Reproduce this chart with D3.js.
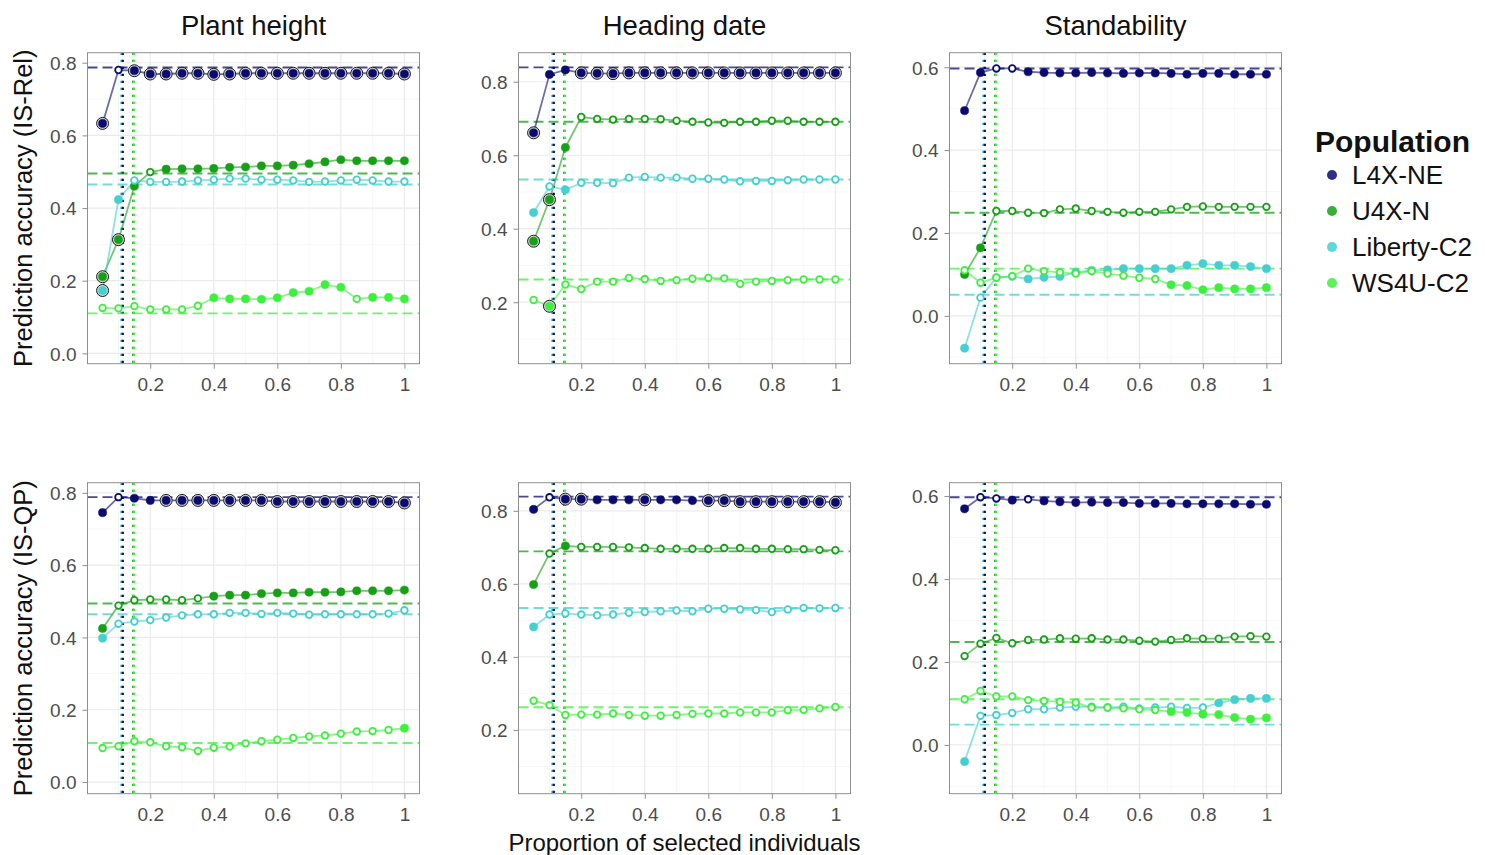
<!DOCTYPE html>
<html><head><meta charset="utf-8">
<script src="https://cdn.jsdelivr.net/npm/d3@7/dist/d3.min.js"></script>
<style>
body{margin:0;background:#fff;}
svg{display:block;}
text{font-family:"Liberation Sans",Arial,sans-serif;}
</style>
</head><body>
<svg id="chart" width="1485" height="855"></svg>
<script>
// ---------- data ----------
const populations = ["L4X-NE", "U4X-N", "Liberty-C2", "WS4U-C2"];
const popColors = ["#0b0b6f", "#17a017", "#45cfcf", "#3ef03e"];
const traits = ["Plant height", "Heading date", "Standability"];
const methods = ["IS-Rel", "IS-QP"];
const proportions = [0.05,0.10,0.15,0.20,0.25,0.30,0.35,0.40,0.45,0.50,0.55,0.60,0.65,0.70,0.75,0.80,0.85,0.90,0.95,1.00];
const xTickValues = [0.2, 0.4, 0.6, 0.8, 1];
// optimal proportion (dotted vertical lines), one per population
const optimalProportion = [0.1135, 0.1465, 0.109, 0.1485];

// status codes: f = filled, o = open, c = filled + circled
// Plant height, IS-Rel
const ph_rel_L4X = [0.633,0.780,0.778,0.769,0.769,0.771,0.771,0.768,0.769,0.771,0.771,0.771,0.771,0.771,0.771,0.771,0.771,0.771,0.771,0.769];
const ph_rel_U4X = [0.211,0.313,0.460,0.499,0.507,0.508,0.508,0.509,0.512,0.513,0.516,0.516,0.518,0.522,0.527,0.533,0.530,0.530,0.530,0.530];
const ph_rel_Lib = [0.173,0.423,0.476,0.472,0.472,0.473,0.476,0.478,0.481,0.481,0.478,0.478,0.476,0.472,0.473,0.476,0.478,0.476,0.473,0.473];
const ph_rel_WS = [0.125,0.124,0.130,0.121,0.121,0.121,0.131,0.153,0.150,0.150,0.149,0.153,0.167,0.171,0.189,0.182,0.150,0.154,0.154,0.150];
const ph_rel_status = ["cocccccccccccccccccc","ccfoffffffffffffffff","cfoooooooooooooooooo","ooooooofffffffffofff"];
const ph_rel_base = [0.787, 0.495, 0.465, 0.110];

// Heading date, IS-Rel
const hd_rel_L4X = [0.661,0.820,0.832,0.824,0.823,0.822,0.824,0.824,0.824,0.824,0.824,0.824,0.824,0.824,0.824,0.824,0.824,0.824,0.824,0.824];
const hd_rel_U4X = [0.366,0.479,0.621,0.704,0.699,0.697,0.699,0.699,0.698,0.694,0.691,0.689,0.688,0.691,0.691,0.694,0.694,0.691,0.691,0.691];
const hd_rel_Lib = [0.444,0.515,0.506,0.525,0.525,0.524,0.539,0.541,0.539,0.539,0.536,0.536,0.534,0.529,0.530,0.530,0.532,0.534,0.534,0.534];
const hd_rel_WS = [0.206,0.189,0.248,0.236,0.256,0.256,0.266,0.263,0.258,0.260,0.264,0.266,0.265,0.250,0.256,0.258,0.260,0.262,0.262,0.262];
const hd_rel_status = ["cffccccccccccccccccc","ccfooooooooooooooooo","fofooooooooooooooooo","ocoooooooooooooooooo"];
const hd_rel_base = [0.839, 0.691, 0.534, 0.262];

// Standability, IS-Rel
const st_rel_L4X = [0.495,0.587,0.597,0.597,0.589,0.587,0.586,0.586,0.587,0.586,0.585,0.586,0.586,0.585,0.583,0.585,0.585,0.583,0.583,0.583];
const st_rel_U4X = [0.100,0.164,0.253,0.253,0.249,0.248,0.257,0.259,0.253,0.251,0.249,0.251,0.251,0.257,0.263,0.264,0.263,0.263,0.263,0.263];
const st_rel_Lib = [-0.078,0.044,0.093,0.095,0.089,0.093,0.095,0.105,0.110,0.111,0.114,0.114,0.114,0.114,0.122,0.126,0.122,0.122,0.119,0.114];
const st_rel_WS = [0.110,0.080,0.092,0.096,0.114,0.108,0.105,0.102,0.108,0.102,0.097,0.092,0.089,0.075,0.073,0.063,0.068,0.065,0.065,0.068];
const st_rel_status = ["ffooffffffffffffffff","ffoooooooooooooooooo","foooffffffffffffffff","ooooooooooooofffffff"];
const st_rel_base = [0.597, 0.249, 0.051, 0.114];

// Plant height, IS-QP
const ph_qp_L4X = [0.745,0.788,0.785,0.779,0.779,0.779,0.779,0.779,0.779,0.779,0.779,0.776,0.776,0.776,0.776,0.776,0.776,0.776,0.776,0.772];
const ph_qp_U4X = [0.425,0.488,0.503,0.505,0.505,0.503,0.508,0.514,0.517,0.517,0.521,0.523,0.523,0.525,0.525,0.526,0.529,0.529,0.529,0.531];
const ph_qp_Lib = [0.398,0.438,0.444,0.448,0.455,0.461,0.464,0.464,0.468,0.468,0.465,0.468,0.466,0.463,0.464,0.464,0.464,0.464,0.466,0.475];
const ph_qp_WS = [0.094,0.099,0.113,0.110,0.099,0.096,0.086,0.095,0.098,0.107,0.113,0.117,0.122,0.126,0.129,0.134,0.140,0.141,0.144,0.149];
const ph_qp_status = ["foffcccccccccccccccc","foooooofffffffffffff","fooooooooooooooooooo","ooooooooooooooooooof"];
const ph_qp_base = [0.788, 0.494, 0.464, 0.108];

// Heading date, IS-QP
const hd_qp_L4X = [0.804,0.837,0.832,0.832,0.830,0.830,0.830,0.830,0.830,0.830,0.828,0.828,0.828,0.825,0.825,0.825,0.825,0.825,0.825,0.823];
const hd_qp_U4X = [0.598,0.683,0.704,0.701,0.701,0.701,0.700,0.698,0.696,0.696,0.696,0.696,0.698,0.698,0.696,0.696,0.695,0.695,0.693,0.692];
const hd_qp_Lib = [0.482,0.516,0.519,0.516,0.514,0.516,0.521,0.523,0.525,0.527,0.525,0.532,0.532,0.530,0.528,0.523,0.530,0.534,0.533,0.534];
const hd_qp_WS = [0.280,0.268,0.241,0.242,0.242,0.245,0.241,0.239,0.239,0.241,0.244,0.245,0.245,0.248,0.248,0.248,0.254,0.255,0.259,0.263];
const hd_qp_status = ["foccfffcfffccccccccc","fofooooooooooooooooo","fooooooooooooooooooo","oooooooooooooooooooo"];
const hd_qp_base = [0.839, 0.689, 0.534, 0.262];

// Standability, IS-QP
const st_qp_L4X = [0.569,0.597,0.594,0.590,0.592,0.588,0.586,0.584,0.585,0.584,0.584,0.582,0.582,0.582,0.581,0.581,0.581,0.581,0.580,0.580];
const st_qp_U4X = [0.214,0.244,0.258,0.245,0.253,0.254,0.257,0.256,0.257,0.254,0.254,0.251,0.249,0.253,0.257,0.256,0.256,0.261,0.262,0.261];
const st_qp_Lib = [-0.040,0.070,0.072,0.077,0.086,0.086,0.090,0.092,0.092,0.090,0.092,0.088,0.090,0.092,0.089,0.090,0.101,0.109,0.112,0.112];
const st_qp_WS = [0.110,0.130,0.117,0.117,0.108,0.106,0.104,0.102,0.090,0.090,0.088,0.086,0.084,0.080,0.078,0.074,0.073,0.066,0.062,0.065];
const st_qp_status = ["foofofffffffffffffff","oooooooooooooooooooo","foooooooooooooooffff","ooooooooooooofffffff"];
const st_qp_base = [0.597, 0.248, 0.049, 0.110];

// y-axis ticks per trait
const yTicks_ph = [0.0, 0.2, 0.4, 0.6, 0.8];
const yTicks_hd = [0.2, 0.4, 0.6, 0.8];
const yTicks_st = [0.0, 0.2, 0.4, 0.6];
// y-axis limits per panel
const yLim_ph_rel = [-0.0284, 0.8276];
const yLim_hd_rel = [0.0327, 0.879];
const yLim_st_rel = [-0.1154, 0.635];
const yLim_ph_qp = [-0.0322, 0.828];
const yLim_hd_qp = [0.0254, 0.877];
const yLim_st_qp = [-0.1176, 0.632];

// ---------- layout ----------
const panelLefts = [87.5, 518.5, 949.5];
const panelW = 332;
const rowTops = [52.7, 482.7];
const panelH = 311;
const xLim = [0.0025, 1.0475];

const panels = [
  {r:0,c:0, series:[ph_rel_L4X,ph_rel_U4X,ph_rel_Lib,ph_rel_WS], status:ph_rel_status, base:ph_rel_base, ylim:yLim_ph_rel, yt:yTicks_ph},
  {r:0,c:1, series:[hd_rel_L4X,hd_rel_U4X,hd_rel_Lib,hd_rel_WS], status:hd_rel_status, base:hd_rel_base, ylim:yLim_hd_rel, yt:yTicks_hd},
  {r:0,c:2, series:[st_rel_L4X,st_rel_U4X,st_rel_Lib,st_rel_WS], status:st_rel_status, base:st_rel_base, ylim:yLim_st_rel, yt:yTicks_st},
  {r:1,c:0, series:[ph_qp_L4X,ph_qp_U4X,ph_qp_Lib,ph_qp_WS], status:ph_qp_status, base:ph_qp_base, ylim:yLim_ph_qp, yt:yTicks_ph},
  {r:1,c:1, series:[hd_qp_L4X,hd_qp_U4X,hd_qp_Lib,hd_qp_WS], status:hd_qp_status, base:hd_qp_base, ylim:yLim_hd_qp, yt:yTicks_hd},
  {r:1,c:2, series:[st_qp_L4X,st_qp_U4X,st_qp_Lib,st_qp_WS], status:st_qp_status, base:st_qp_base, ylim:yLim_st_qp, yt:yTicks_st}
];

const svg = d3.select("#chart");
const gridMajor = "#ebebeb", gridMinor = "#f5f5f5", borderCol = "#8f8f8f", tickTextCol = "#4d4d4d";

function minorBetween(ticks, lim){
  const step = ticks[1]-ticks[0];
  const out = [];
  for (let v = ticks[0]-step*3; v <= ticks[ticks.length-1]+step*3; v += step) {
    const m = v + step/2;
    if (m > lim[0] && m < lim[1]) out.push(+m.toFixed(4));
  }
  return out;
}

panels.forEach(p => {
  const x0 = panelLefts[p.c], y0 = rowTops[p.r];
  const g = svg.append("g").attr("transform", `translate(${x0},${y0})`);
  const x = d3.scaleLinear().domain(xLim).range([0, panelW]);
  const y = d3.scaleLinear().domain(p.ylim).range([panelH, 0]);

  const clipId = `clip${p.r}${p.c}`;
  g.append("clipPath").attr("id", clipId).append("rect").attr("width", panelW).attr("height", panelH);

  // grid
  const xMinor = minorBetween(xTickValues, xLim);
  const yMinor = minorBetween(p.yt, p.ylim);
  g.selectAll(".xminor").data(xMinor).join("line")
    .attr("x1", d=>x(d)).attr("x2", d=>x(d)).attr("y1",0).attr("y2",panelH)
    .attr("stroke", gridMinor).attr("stroke-width", 0.8);
  g.selectAll(".yminor").data(yMinor).join("line")
    .attr("y1", d=>y(d)).attr("y2", d=>y(d)).attr("x1",0).attr("x2",panelW)
    .attr("stroke", gridMinor).attr("stroke-width", 0.8);
  g.selectAll(".xmajor").data(xTickValues).join("line")
    .attr("x1", d=>x(d)).attr("x2", d=>x(d)).attr("y1",0).attr("y2",panelH)
    .attr("stroke", gridMajor).attr("stroke-width", 1.2);
  g.selectAll(".ymajor").data(p.yt).join("line")
    .attr("y1", d=>y(d)).attr("y2", d=>y(d)).attr("x1",0).attr("x2",panelW)
    .attr("stroke", gridMajor).attr("stroke-width", 1.2);

  const plot = g.append("g").attr("clip-path", `url(#${clipId})`);

  // dotted vertical lines (optimal proportion)
  [2, 0, 1, 3].forEach(i => {
    plot.append("line")
      .attr("x1", x(optimalProportion[i])).attr("x2", x(optimalProportion[i]))
      .attr("y1", 0).attr("y2", panelH)
      .attr("stroke", popColors[i]).attr("stroke-width", 2.3)
      .attr("stroke-dasharray", "2.3,4.7");
  });

  // dashed baselines
  p.base.forEach((b, i) => {
    plot.append("line")
      .attr("x1", 0).attr("x2", panelW).attr("y1", y(b)).attr("y2", y(b))
      .attr("stroke", popColors[i]).attr("stroke-opacity", 0.75)
      .attr("stroke-width", 1.9).attr("stroke-dasharray", "10,5");
  });

  // connecting lines
  const line = d3.line().x((d,j)=>x(proportions[j])).y(d=>y(d));
  p.series.forEach((s, i) => {
    plot.append("path").datum(s).attr("d", line)
      .attr("fill","none").attr("stroke", popColors[i])
      .attr("stroke-opacity", 0.6).attr("stroke-width", 1.8);
  });

  // rings then points
  p.series.forEach((s, i) => {
    const pts = s.map((v,j)=>({v, j, st: p.status[i][j]}));
    plot.selectAll(null).data(pts.filter(d=>d.st==="c")).join("circle")
      .attr("cx", d=>x(proportions[d.j])).attr("cy", d=>y(d.v)).attr("r", 6)
      .attr("fill", "#d4d4d4").attr("stroke", "#1a1a1a").attr("stroke-width", 1);
  });
  p.series.forEach((s, i) => {
    const pts = s.map((v,j)=>({v, j, st: p.status[i][j]}));
    plot.selectAll(null).data(pts).join("circle")
      .attr("cx", d=>x(proportions[d.j])).attr("cy", d=>y(d.v))
      .attr("r", d=> d.st==="o" ? 3.3 : 4.1)
      .attr("fill", d=> d.st==="o" ? "#ffffff" : popColors[i])
      .attr("stroke", popColors[i]).attr("stroke-width", d=> d.st==="o" ? 1.8 : 0.5);
  });

  // border
  g.append("rect").attr("width", panelW).attr("height", panelH)
    .attr("fill","none").attr("stroke", borderCol).attr("stroke-width", 1);

  // axes
  const xAxis = d3.axisBottom(x).tickValues(xTickValues).tickSize(5).tickPadding(5)
    .tickFormat(d => d===1 ? "1" : d3.format(".1f")(d));
  const gx = g.append("g").attr("transform", `translate(0,${panelH})`).call(xAxis);
  const yAxis = d3.axisLeft(y).tickValues(p.yt).tickSize(5).tickPadding(6).tickFormat(d3.format(".1f"));
  const gy = g.append("g").call(yAxis);
  [gx, gy].forEach(a => {
    a.select(".domain").remove();
    a.selectAll(".tick line").attr("stroke", borderCol);
    a.selectAll(".tick text").attr("fill", tickTextCol).style("font-size", "19px")
      .style("font-family", '"Liberation Sans",Arial,sans-serif');
  });
  gx.selectAll(".tick text").attr("dy", "0.9em");
  gy.selectAll(".tick text").attr("dy", "0.36em");
});

// facet titles
traits.forEach((t, c) => {
  svg.append("text").attr("x", panelLefts[c] + panelW/2).attr("y", 35)
    .attr("text-anchor","middle").style("font-size","27.5px").attr("fill","#111").text(t);
});
// y-axis titles
methods.forEach((m, r) => {
  const cy = rowTops[r] + panelH/2;
  svg.append("text").attr("transform", `translate(32,${cy}) rotate(-90)`)
    .attr("text-anchor","middle").style("font-size","25.5px").attr("fill","#111")
    .text(`Prediction accuracy (${m})`);
});
// x-axis title
svg.append("text").attr("x", panelLefts[1] + panelW/2).attr("y", 851)
  .attr("text-anchor","middle").style("font-size","24px").attr("fill","#111")
  .text("Proportion of selected individuals");

// legend
const lg = svg.append("g").attr("transform","translate(1315,0)");
lg.append("text").attr("x", 0).attr("y", 152).style("font-size","30px")
  .style("font-weight","bold").attr("fill","#111").text("Population");
populations.forEach((pName, i) => {
  const cy = 175 + i*36;
  lg.append("circle").attr("cx", 17).attr("cy", cy).attr("r", 5).attr("fill", popColors[i]).attr("opacity", 0.85);
  lg.append("text").attr("x", 37).attr("y", cy).attr("dy","0.36em")
    .style("font-size","26px").attr("fill","#111").text(pName);
});
</script>
</body></html>
